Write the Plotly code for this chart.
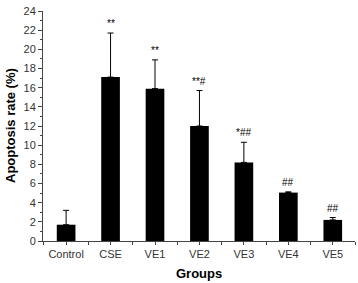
import plotly.graph_objects as go

groups = ["Control", "CSE", "VE1", "VE2", "VE3", "VE4", "VE5"]
rates = [1.7, 17.1, 15.9, 12.0, 8.2, 5.05, 2.2]
errors = [1.5, 4.6, 3.0, 3.7, 2.1, 0.08, 0.25]
marks = ["", "**", "**", "**#", "*##", "##", "##"]

FONT = "Arial, Liberation Sans, sans-serif"
xpos = list(range(len(groups)))

fig = go.Figure()
fig.add_trace(go.Bar(
    x=xpos, y=rates, width=0.42,
    marker=dict(color="black", line=dict(width=0)),
    error_y=dict(type="data", array=errors, arrayminus=[0] * len(errors),
                 symmetric=False, color="black", thickness=1, width=3),
))

for xi, v, e, m in zip(xpos, rates, errors, marks):
    if m:
        fig.add_annotation(x=xi, y=v + e, text=m, showarrow=False,
                           xref="x", yref="y", yanchor="bottom", yshift=2,
                           font=dict(family=FONT, size=10, color="black"))

fig.add_annotation(x=0.5, y=0, xref="paper", yref="paper", yshift=-23,
                   text="<b>Groups</b>", showarrow=False, yanchor="top",
                   font=dict(family=FONT, size=13, color="black"))
fig.add_annotation(x=0, y=0.5, xref="paper", yref="paper", xshift=-33,
                   text="<b>Apoptosis rate (%)</b>", showarrow=False, textangle=-90,
                   xanchor="center", font=dict(family=FONT, size=13, color="black"))

fig.update_layout(
    width=358, height=283,
    margin=dict(l=43, r=3, t=11, b=42, autoexpand=False),
    paper_bgcolor="white", plot_bgcolor="white",
    showlegend=False,
    font=dict(family=FONT, color="#333"),
    xaxis=dict(
        range=[-0.52, 6.5], tickvals=xpos, ticktext=groups, automargin=False,
        showline=True, linecolor="#444", linewidth=1,
        ticks="outside", ticklen=3, tickcolor="#444",
        tickfont=dict(size=11, color="#333"),
        showgrid=False, zeroline=False,
        minor=dict(ticks="outside", ticklen=3, tick0=0.5, dtick=1, tickcolor="#444"),
    ),
    yaxis=dict(
        range=[0, 24], tick0=0, dtick=2, automargin=False,
        showline=True, linecolor="#444", linewidth=1,
        ticks="outside", ticklen=4, tickcolor="#444",
        tickfont=dict(size=11, color="#333"),
        showgrid=False, zeroline=False,
        minor=dict(ticks="outside", ticklen=2, dtick=1, tickcolor="#444"),
    ),
)

fig.write_html("out.html", config={"displayModeBar": False},
               post_script="document.body.style.margin='0';")
